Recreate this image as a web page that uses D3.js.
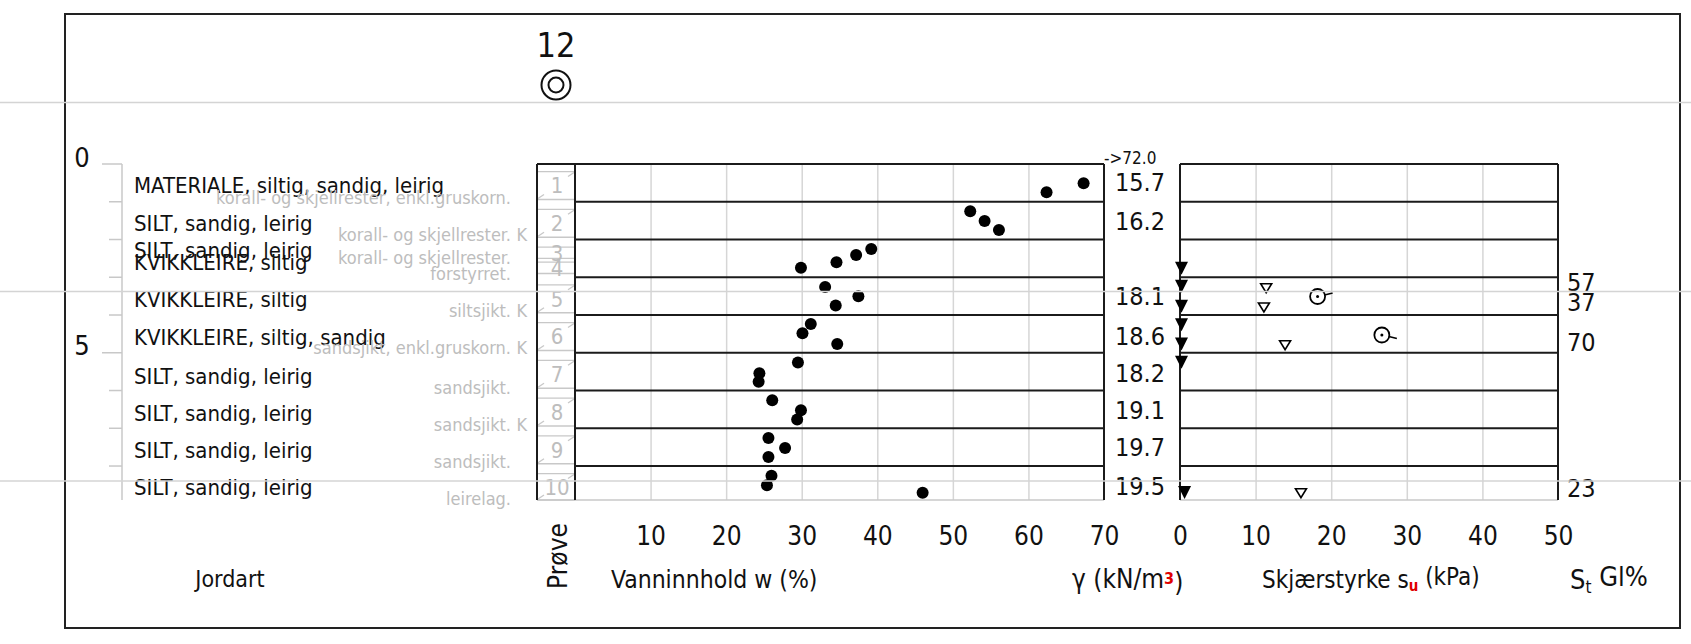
<!DOCTYPE html>
<html lang="no">
<head>
<meta charset="UTF-8">
<title>Borprofil 12</title>
<script src="https://cdn.jsdelivr.net/npm/d3@7"></script>
<style>
  body { margin: 0; background: #fff; }
  svg text { font-family: "Liberation Sans Narrow", "DejaVu Sans Condensed", sans-serif; fill: #111; }
  .grid line { stroke: #d6d6d6; stroke-width: 1.5; }
  .grid path { display: none; }
  .ticks path, .ticks line { display: none; }
  .layer { stroke: #1b1b1b; stroke-width: 2; }
  .faint { fill: #bdbdbd; }
</style>
</head>
<body>
<svg id="svg" width="1691" height="644"></svg>
<script>

// borehole 12, depth in metres
const boreholeNo = "12";
const maxDepth = 8.9;
const layerDepths = [1, 2, 3, 4, 5, 6, 7, 8];
const depthTicks = [0, 1, 2, 3, 4, 5, 6, 7, 8];
const depthLabels = [0, 5];

const sampleNo  = [1, 2, 3, 4, 5, 6, 7, 8, 9, 10];
const sampleTop = [0.2, 1.2, 2.2, 2.6, 3.2, 4.2, 5.2, 6.2, 7.2, 8.2];
const sampleBot = [0.94, 1.94, 2.5, 2.9, 3.94, 4.94, 5.94, 6.94, 7.94, 8.9];

const soilNames = [
    "MATERIALE, siltig, sandig, leirig",
    "SILT, sandig, leirig",
    "SILT, sandig, leirig",
    "KVIKKLEIRE, siltig",
    "KVIKKLEIRE, siltig",
    "KVIKKLEIRE, siltig, sandig",
    "SILT, sandig, leirig",
    "SILT, sandig, leirig",
    "SILT, sandig, leirig",
    "SILT, sandig, leirig"
];
const soilDepth = [0.56, 1.57, 2.28, 2.59, 3.58, 4.58, 5.63, 6.6, 7.58, 8.55];

const remarks = [
    "korall- og skjellrester, enkl.gruskorn.",
    "korall- og skjellrester.",
    "korall- og skjellrester.",
    "forstyrret.",
    "siltsjikt.",
    "sandsjikt, enkl.gruskorn.",
    "sandsjikt.",
    "sandsjikt.",
    "sandsjikt.",
    "leirelag."
];
const remarkK = [false, true, false, false, true, true, false, true, false, false];
const remarkDepth = [0.9, 1.88, 2.49, 2.89, 3.87, 4.87, 5.91, 6.89, 7.89, 8.85];

// water content w (%)
const wDepth = [0.51, 0.75, 1.25, 1.51, 1.75, 2.25, 2.41, 2.6, 2.75, 3.26, 3.5, 3.75, 4.24, 4.48,
                4.77, 5.26, 5.54, 5.77, 6.26, 6.52, 6.77, 7.26, 7.52, 7.76, 8.26, 8.51, 8.71];
const wValue = [67.3, 62.4, 52.3, 54.2, 56.1, 39.2, 37.2, 34.6, 29.9, 33.1, 37.5, 34.5, 31.2, 30.1,
                34.7, 29.5, 24.4, 24.3, 26.1, 29.9, 29.4, 25.6, 27.8, 25.6, 26.0, 25.4, 46.0];
const wTicks = [10, 20, 30, 40, 50, 60, 70];

// unit weight (kN/m3)
const gammaDepth = [0.47, 1.5, 3.5, 4.55, 5.54, 6.51, 7.5, 8.52];
const gammaValue = ["15.7", "16.2", "18.1", "18.6", "18.2", "19.1", "19.7", "19.5"];
const gammaNote = "->72.0";

// shear strength su (kPa)
const suTicks = [0, 10, 20, 30, 40, 50];
const suRemDepth = [2.76, 3.24, 3.77, 4.26, 4.77, 5.25, 8.7];
const suRemValue = [0.2, 0.2, 0.2, 0.2, 0.2, 0.2, 0.6];
const suUndDepth = [3.29, 3.8, 4.8, 8.72];
const suUndValue = [11.4, 11.1, 13.9, 16.0];
const suVaneDepth = [3.51, 4.53];
const suVaneValue = [18.2, 26.7];

// sensitivity St
const stDepth = [3.13, 3.66, 4.71, 8.59];
const stValue = ["57", "37", "70", "23"];

let svg = d3.select('#svg');

let y  = d3.scaleLinear().domain([0, maxDepth]).range([164, 500]);
let xw = d3.scaleLinear().domain([0, 70]).range([575, 1104]);
let xs = d3.scaleLinear().domain([0, 50]).range([1180, 1558]);

const yTop = y(0), yBot = y(maxDepth);
const sampleL = 537, sampleR = 575;

// outer frame
svg.append('rect')
    .attr('x', 65).attr('y', 14).attr('width', 1615).attr('height', 614)
    .attr('fill', 'none').attr('stroke', '#222').attr('stroke-width', 2);

// borehole marker
svg.append('text').attr('x', 556).attr('y', 45).attr('dy', '0.36em')
    .attr('text-anchor', 'middle').style('font-size', '34px').text(boreholeNo);
svg.append('circle').attr('cx', 556).attr('cy', 85).attr('r', 14.5)
    .attr('fill', 'none').attr('stroke', '#111').attr('stroke-width', 2);
svg.append('circle').attr('cx', 556).attr('cy', 85).attr('r', 7.5)
    .attr('fill', 'none').attr('stroke', '#111').attr('stroke-width', 2);

// depth axis
let dAxis = svg.append('g');
dAxis.append('line').attr('x1', 122).attr('x2', 122).attr('y1', yTop).attr('y2', yBot)
    .attr('stroke', '#c8c8c8').attr('stroke-width', 1.5);
dAxis.selectAll('.dtick').data(depthTicks).enter().append('line')
    .attr('x1', d => depthLabels.includes(d) ? 102 : 109).attr('x2', 122)
    .attr('y1', d => y(d)).attr('y2', d => y(d))
    .attr('stroke', '#c8c8c8').attr('stroke-width', 1.5);
dAxis.selectAll('.dlab').data(depthLabels).enter().append('text')
    .attr('x', 82).attr('y', d => y(d) - 7).attr('dy', '0.36em')
    .attr('text-anchor', 'middle').style('font-size', '27px').text(d => d);

// soil description + remarks
svg.selectAll('.soil').data(soilNames).enter().append('text')
    .attr('x', 134).attr('y', (d, i) => y(soilDepth[i])).attr('dy', '0.36em')
    .style('font-size', '22px').text(d => d);
svg.selectAll('.rem').data(remarks).enter().append('text')
    .attr('class', 'faint')
    .attr('x', 511).attr('y', (d, i) => y(remarkDepth[i])).attr('dy', '0.36em')
    .attr('text-anchor', 'end').style('font-size', '18px').text(d => d);
const kIdx = remarks.map((d, i) => i).filter(i => remarkK[i]);
svg.selectAll('.remk').data(kIdx).enter().append('text')
    .attr('class', 'faint')
    .attr('x', 527).attr('y', i => y(remarkDepth[i])).attr('dy', '0.36em')
    .attr('text-anchor', 'end').style('font-size', '18px').text('K');

// grids
svg.append('g').attr('class', 'grid')
    .attr('transform', `translate(0,${yBot})`)
    .call(d3.axisBottom(xw).tickValues(wTicks.slice(0, -1)).tickSize(-(yBot - yTop)).tickFormat(''));
svg.append('g').attr('class', 'grid')
    .attr('transform', `translate(0,${yBot})`)
    .call(d3.axisBottom(xs).tickValues(suTicks.slice(1, -1)).tickSize(-(yBot - yTop)).tickFormat(''));

// panel bottoms (faint)
svg.append('line').attr('x1', sampleL).attr('x2', xw(70)).attr('y1', yBot).attr('y2', yBot)
    .attr('stroke', '#c8c8c8').attr('stroke-width', 1.5);
svg.append('line').attr('x1', xs(0)).attr('x2', xs(50)).attr('y1', yBot).attr('y2', yBot)
    .attr('stroke', '#c8c8c8').attr('stroke-width', 1.5);

// sample boxes
let boxes = svg.append('g').attr('stroke', '#c8c8c8').attr('stroke-width', 1.3);
sampleNo.forEach((n, i) => {
    let t = y(sampleTop[i]), b = y(sampleBot[i]);
    boxes.append('line').attr('x1', sampleL).attr('x2', sampleR).attr('y1', t).attr('y2', t);
    boxes.append('line').attr('x1', sampleL).attr('x2', sampleR).attr('y1', b).attr('y2', b);
    if (b - t > 20) {
        boxes.append('line').attr('x1', sampleR - 7).attr('y1', t + 5).attr('x2', sampleR - 1).attr('y2', t + 1);
        boxes.append('line').attr('x1', sampleL + 1).attr('y1', b - 1).attr('x2', sampleL + 7).attr('y2', b - 5);
    }
});
svg.selectAll('.sno').data(sampleNo).enter().append('text')
    .attr('class', 'faint')
    .attr('x', 557).attr('y', (d, i) => y((sampleTop[i] + sampleBot[i]) / 2)).attr('dy', '0.36em')
    .attr('text-anchor', 'middle').style('font-size', '22px').text(d => d);

// layer lines
svg.selectAll('.lw').data(layerDepths).enter().append('line').attr('class', 'layer')
    .attr('x1', sampleR).attr('x2', xw(70)).attr('y1', d => y(d)).attr('y2', d => y(d));
svg.selectAll('.ls').data(layerDepths).enter().append('line').attr('class', 'layer')
    .attr('x1', xs(0)).attr('x2', xs(50)).attr('y1', d => y(d)).attr('y2', d => y(d));

// panel borders
let frame = svg.append('g').attr('stroke', '#1b1b1b').attr('stroke-width', 2).attr('fill', 'none');
frame.append('line').attr('x1', sampleL).attr('x2', xw(70)).attr('y1', yTop).attr('y2', yTop);
frame.append('line').attr('x1', sampleL).attr('x2', sampleL).attr('y1', yTop).attr('y2', yBot);
frame.append('line').attr('x1', sampleR).attr('x2', sampleR).attr('y1', yTop).attr('y2', yBot);
frame.append('line').attr('x1', xw(70)).attr('x2', xw(70)).attr('y1', yTop).attr('y2', yBot);
frame.append('line').attr('x1', xs(0)).attr('x2', xs(50)).attr('y1', yTop).attr('y2', yTop);
frame.append('line').attr('x1', xs(0)).attr('x2', xs(0)).attr('y1', yTop).attr('y2', yBot);
frame.append('line').attr('x1', xs(50)).attr('x2', xs(50)).attr('y1', yTop).attr('y2', yBot);

// water content points
svg.selectAll('.wpt').data(wValue).enter().append('ellipse')
    .attr('cx', d => xw(d)).attr('cy', (d, i) => y(wDepth[i]))
    .attr('rx', 6).attr('ry', 6).attr('fill', '#000');

// unit weight column
svg.append('text').attr('x', 1104).attr('y', 158).attr('dy', '0.36em')
    .style('font-size', '17px').text(gammaNote);
svg.selectAll('.gam').data(gammaValue).enter().append('text')
    .attr('x', 1115).attr('y', (d, i) => y(gammaDepth[i])).attr('dy', '0.36em')
    .style('font-size', '25px').text(d => d);

// shear strength symbols
svg.selectAll('.surem').data(suRemValue).enter().append('path')
    .attr('transform', (d, i) => `translate(${xs(d)},${y(suRemDepth[i])})`)
    .attr('d', 'M-6.5,-6.5L6.5,-6.5L0,6.5Z').attr('fill', '#000');
svg.selectAll('.suund').data(suUndValue).enter().append('path')
    .attr('transform', (d, i) => `translate(${xs(d)},${y(suUndDepth[i])})`)
    .attr('d', 'M-5.5,-4.5L5.5,-4.5L0,4.5Z').attr('fill', '#fff')
    .attr('stroke', '#000').attr('stroke-width', 1.6);
const vaneTail = [-1, 1];
let vane = svg.selectAll('.suvane').data(suVaneValue).enter().append('g')
    .attr('transform', (d, i) => `translate(${xs(d)},${y(suVaneDepth[i])})`);
vane.append('line').attr('x1', 7).attr('y1', (d, i) => 1.5 * vaneTail[i])
    .attr('x2', 15).attr('y2', (d, i) => 3.5 * vaneTail[i])
    .attr('stroke', '#000').attr('stroke-width', 1.6);
vane.append('circle').attr('r', 7.5).attr('fill', '#fff').attr('stroke', '#000').attr('stroke-width', 1.8);
vane.append('circle').attr('r', 1.5).attr('fill', '#000');

// sensitivity
svg.selectAll('.st').data(stValue).enter().append('text')
    .attr('x', 1567).attr('y', (d, i) => y(stDepth[i])).attr('dy', '0.36em')
    .style('font-size', '25px').text(d => d);

// tick labels
svg.append('g').attr('class', 'ticks').attr('transform', `translate(0,${yBot})`)
    .call(d3.axisBottom(xw).tickValues(wTicks).tickSize(0).tickPadding(27))
    .call(g => g.selectAll('text').style('font-size', '26px').attr('fill', '#111'))
    .attr('font-family', null);
svg.append('g').attr('class', 'ticks').attr('transform', `translate(0,${yBot})`)
    .call(d3.axisBottom(xs).tickValues(suTicks).tickSize(0).tickPadding(27))
    .call(g => g.selectAll('text').style('font-size', '26px').attr('fill', '#111'))
    .attr('font-family', null);

// column titles
const titleY = 579;
svg.append('text').attr('x', 230).attr('y', titleY).attr('dy', '0.36em')
    .attr('text-anchor', 'middle').style('font-size', '23px').text('Jordart');
svg.append('text').attr('transform', 'translate(558,556) rotate(-90)').attr('dy', '0.36em')
    .attr('text-anchor', 'middle').style('font-size', '26px').text('Prøve');
svg.append('text').attr('x', 611).attr('y', titleY).attr('dy', '0.36em')
    .style('font-size', '24.5px').text('Vanninnhold w (%)');

let g1 = svg.append('text').attr('x', 1072).attr('y', titleY).attr('dy', '0.36em').style('font-size', '26px');
g1.append('tspan').text('γ  (kN/m');
g1.append('tspan').attr('dy', '-0.3em').style('font-size', '16px').style('font-weight', 'bold')
    .style('fill', '#e00000').text('3');
g1.append('tspan').attr('dy', '0.3em').text(')');

let g2 = svg.append('text').attr('x', 1262).attr('y', titleY).attr('dy', '0.36em').style('font-size', '24px');
g2.append('tspan').text('Skjærstyrke s');
g2.append('tspan').attr('dy', '0.25em').style('font-size', '15px').style('font-weight', 'bold')
    .style('fill', '#e00000').text('u');
g2.append('tspan').attr('dy', '-0.25em').text(' (kPa)');

let g3 = svg.append('text').attr('x', 1570).attr('y', titleY).attr('dy', '0.36em').style('font-size', '27px');
g3.append('tspan').text('S');
g3.append('tspan').attr('dy', '0.25em').style('font-size', '17px').text('t');
g3.append('tspan').attr('dy', '-0.25em').text(' Gl%');

// faint full-width guide lines
svg.selectAll('.guide').data([102.5, 291.5, 481]).enter().append('line')
    .attr('x1', 0).attr('x2', 1691).attr('y1', d => d).attr('y2', d => d)
    .attr('stroke', '#d4d4d4').attr('stroke-width', 1.5);

</script>
</body>
</html>
